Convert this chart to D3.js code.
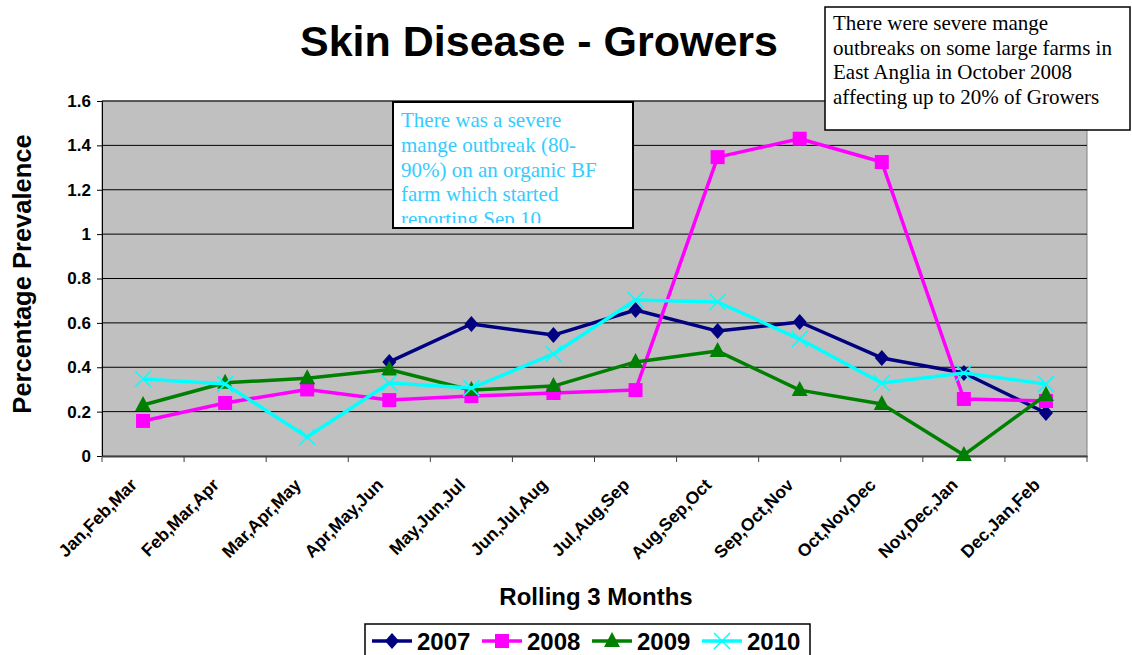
<!DOCTYPE html>
<html><head><meta charset="utf-8">
<script src="https://cdn.jsdelivr.net/npm/d3@7"></script>
<style>body{margin:0;background:#fff}svg{display:block}</style>
</head><body>
<svg id="c" width="1132" height="655"></svg>
<script>
const categories = ["Jan,Feb,Mar","Feb,Mar,Apr","Mar,Apr,May","Apr,May,Jun","May,Jun,Jul","Jun,Jul,Aug","Jul,Aug,Sep","Aug,Sep,Oct","Sep,Oct,Nov","Oct,Nov,Dec","Nov,Dec,Jan","Dec,Jan,Feb"];
const s2007 = [null,null,null,0.424,0.595,0.545,0.658,0.563,0.604,0.442,0.374,0.194];
const s2008 = [0.158,0.239,0.300,0.252,0.270,0.284,0.297,1.347,1.430,1.325,0.257,0.248];
const s2009 = [0.230,0.330,0.350,0.390,0.297,0.315,0.424,0.473,0.297,0.234,0.005,0.275];
const s2010 = [0.347,0.324,0.086,0.329,0.306,0.460,0.703,0.694,0.527,0.329,0.374,0.324];
const seriesNames = ["2007","2008","2009","2010"];
const yTicks = [0,0.2,0.4,0.6,0.8,1,1.2,1.4,1.6];
const note1 = ["There was a severe","mange outbreak (80-","90%) on an organic BF","farm which started","reporting Sep 10"];
const note2 = ["There were severe mange","outbreaks on some large farms in","East Anglia in October 2008","affecting up to 20% of Growers"];

const colors = ["#000080","#FF00FF","#008000","#00FFFF"];
const markers = ["diamond","square","triangle","x"];
const data = [s2007,s2008,s2009,s2010];
const SANS = "Liberation Sans, Arial, sans-serif";
const SERIF = "Liberation Serif, Times New Roman, serif";

const svg = d3.select("#c");
const L=102, R=1087, T=101, B=456;
const x = d3.scaleBand().domain(categories).range([L,R]);
const y = d3.scaleLinear().domain([0,1.6]).range([B,T]);
const cx = c => x(c)+x.bandwidth()/2;

// plot area
svg.append("rect").attr("x",L).attr("y",T).attr("width",R-L).attr("height",B-T).attr("fill","#C0C0C0").attr("stroke","#808080").attr("stroke-width",1);
// gridlines
svg.append("g").selectAll("line").data(yTicks.slice(1)).join("line")
  .attr("x1",L).attr("x2",R).attr("y1",d=>y(d)).attr("y2",d=>y(d)).attr("stroke","#000").attr("stroke-width",1);

// y axis
const ya = svg.append("g").attr("transform",`translate(${L},0)`)
  .call(d3.axisLeft(y).tickValues(yTicks).tickSize(5).tickPadding(6).tickFormat(d=>String(+d.toFixed(1))));
ya.select(".domain").attr("stroke","#000").attr("stroke-width",1);
ya.selectAll("text").attr("font-family",SANS).attr("font-weight","bold").attr("font-size",17).attr("fill","#000");

// x axis
const xa = svg.append("g").attr("transform",`translate(0,${B})`)
  .call(d3.axisBottom(x).tickSize(0).tickFormat(d=>d));
xa.select(".domain").attr("stroke","#404040").attr("stroke-width",2);
xa.selectAll(".tick line").remove();
xa.selectAll(".tick text").attr("font-family",SANS).attr("font-weight","bold").attr("font-size",17.5).attr("fill","#000")
  .attr("text-anchor","end").attr("dy",null).attr("y",0).attr("transform","translate(-5,30) rotate(-45)");
// category boundary ticks
const bounds = categories.map(c=>x(c)).concat([R]);
svg.append("g").selectAll("line").data(bounds).join("line")
  .attr("x1",d=>d).attr("x2",d=>d)
  .attr("y1",B).attr("y2",B+6).attr("stroke","#404040").attr("stroke-width",1);

function drawMarker(g, type, color){
  if(type==="diamond") g.append("path").attr("d","M0,-8L7,0L0,8L-7,0Z").attr("fill",color);
  else if(type==="square") g.append("rect").attr("x",-7).attr("y",-7).attr("width",14).attr("height",14).attr("fill",color);
  else if(type==="triangle") g.append("path").attr("d","M0,-9L8,6L-8,6Z").attr("fill",color);
  else if(type==="x") g.append("path").attr("d","M-8,-8L8,8M-8,8L8,-8").attr("stroke",color).attr("stroke-width",1.5).attr("fill","none");
}

const line = d3.line().defined(d=>d.v!=null).x(d=>cx(d.c)).y(d=>y(d.v));
data.forEach((arr,si)=>{
  const pts = arr.map((v,i)=>({c:categories[i],v}));
  svg.append("path").datum(pts).attr("d",line).attr("fill","none").attr("stroke",colors[si]).attr("stroke-width",3.5).attr("stroke-linejoin","round");
  pts.filter(p=>p.v!=null).forEach(p=>{
    const g = svg.append("g").attr("transform",`translate(${cx(p.c)},${y(p.v)})`);
    drawMarker(g, markers[si], colors[si]);
  });
});

// title
svg.append("text").attr("x",539).attr("y",56).attr("text-anchor","middle").attr("font-family",SANS).attr("font-weight","bold").attr("font-size",43).text("Skin Disease - Growers");
// axis titles
svg.append("text").attr("transform","translate(31,274) rotate(-90)").attr("text-anchor","middle").attr("font-family",SANS).attr("font-weight","bold").attr("font-size",25.5).text("Percentage Prevalence");
svg.append("text").attr("x",596).attr("y",605).attr("text-anchor","middle").attr("font-family",SANS).attr("font-weight","bold").attr("font-size",24).text("Rolling 3 Months");

// legend
const lg = svg.append("g");
lg.append("rect").attr("x",365).attr("y",624).attr("width",445).attr("height",40).attr("fill","#fff").attr("stroke","#000").attr("stroke-width",1.5);
seriesNames.forEach((n,i)=>{
  const g = lg.append("g").attr("transform",`translate(${372+i*110},641)`);
  g.append("line").attr("x1",0).attr("x2",40).attr("y1",0).attr("y2",0).attr("stroke",colors[i]).attr("stroke-width",3.5);
  const mg = g.append("g").attr("transform","translate(20,0)");
  drawMarker(mg, markers[i], colors[i]);
  g.append("text").attr("x",45).attr("y",9).attr("font-family",SANS).attr("font-weight","bold").attr("font-size",24).text(n);
});

// note 1
const defs = svg.append("defs");
defs.append("clipPath").attr("id","n1clip").append("rect").attr("x",394).attr("y",103).attr("width",238).attr("height",120);
svg.append("rect").attr("x",393).attr("y",102).attr("width",240).attr("height",126).attr("fill","#fff").attr("stroke","#000").attr("stroke-width",2);
const n1 = svg.append("g").attr("clip-path","url(#n1clip)");
note1.forEach((t,i)=>n1.append("text").attr("x",401).attr("y",127+i*24.8).attr("font-family",SERIF).attr("font-size",21).attr("fill","#33CCFF").text(t));

// note 2
svg.append("rect").attr("x",825).attr("y",7).attr("width",305).attr("height",123).attr("fill","#fff").attr("stroke","#000").attr("stroke-width",1.5);
note2.forEach((t,i)=>svg.append("text").attr("x",833).attr("y",30+i*24.5).attr("font-family",SERIF).attr("font-size",21).attr("fill","#000").text(t));
</script>
</body></html>
